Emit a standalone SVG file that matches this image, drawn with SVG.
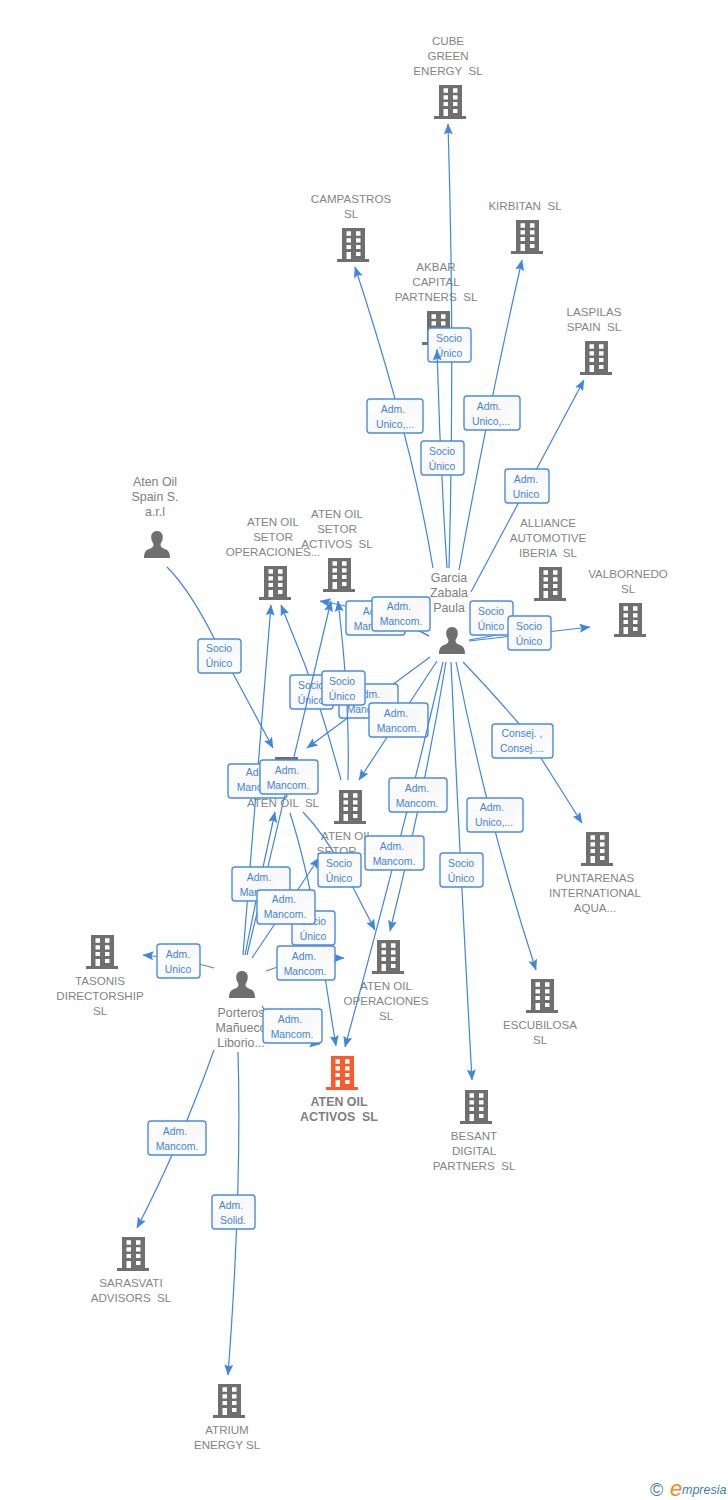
<svg xmlns="http://www.w3.org/2000/svg" width="728" height="1500" viewBox="0 0 728 1500">
<style>
text{font-family:"Liberation Sans",Arial,sans-serif;white-space:pre}
.n text{font-size:11.6px;fill:#858585;text-anchor:middle}
.p text{font-size:12.4px;fill:#808080;text-anchor:middle}
.m text{font-size:12.4px;font-weight:bold;fill:#7f7f7f;text-anchor:middle}
.e{fill:none;stroke:#3f86e0;stroke-width:1.2;marker-end:url(#a)}
.o{fill:none;stroke:#3f86e0;stroke-width:1.2}
.l rect{fill:url(#g);stroke:#4a8ce2;stroke-width:1.4;rx:3px}
.l text{font-size:10.4px;fill:#4384dc;text-anchor:middle}
</style>
<defs>
<linearGradient id="g" x1="0" y1="0" x2="1" y2="1"><stop offset="0" stop-color="#fff"/><stop offset=".5" stop-color="#f8f8f8"/><stop offset="1" stop-color="#fff"/></linearGradient>
<marker id="a" viewBox="0 0 11 9" refX="10.5" refY="4.5" markerWidth="11" markerHeight="9" markerUnits="userSpaceOnUse" orient="auto"><path d="M0,0 L11,4.5 L0,9 L2,4.5 z" fill="#3f86e0"/></marker>
<g id="b"><path fill-rule="evenodd" d="M-11,-17H12V14H-11ZM-6.5,-13.7V-9.3H-2V-13.7ZM3,-13.7V-9.3H7.5V-13.7ZM-6.5,-6.7V-2.5H-2V-6.7ZM3,-6.7V-2.5H7.5V-6.7ZM-6.5,0V4H-2V0ZM3,0V4H7.5V0ZM-6.5,7V14H-2V7ZM3,7V11H7.5V7Z"/><rect x="-16" y="14" width="32" height="3"/></g>
<path id="h" d="M0,-14C-5,-14 -6.5,-9.5 -5.5,-5.5C-5,-3.5 -4,-2 -3.5,-1C-3.5,2 -5,3 -8,4C-11,5 -13,7 -13,13H13C13,7 11,5 8,4C5,3 3.5,2 3.5,-1C4,-2 5,-3.5 5.5,-5.5C6.500,-9.500 5,-14 0,-14Z" fill="#6f6f6f"/>
</defs>
<rect width="728" height="1500" fill="#fff"/>
<g id="nodes" fill="#6f6f6f">
<g id="n-cube" class="n"><use href="#b" x="450" y="102"/><text x="448" y="45">CUBE</text><text x="448" y="60">GREEN</text><text x="448" y="75">ENERGY  SL</text></g>
<g id="n-campastros" class="n"><use href="#b" x="353" y="245"/><text x="351" y="203">CAMPASTROS</text><text x="351" y="218">SL</text></g>
<g id="n-kirbitan" class="n"><use href="#b" x="527" y="237"/><text x="525" y="210">KIRBITAN  SL</text></g>
<g id="n-akbar" class="n"><use href="#b" x="438" y="328"/><text x="436" y="271">AKBAR</text><text x="436" y="286">CAPITAL</text><text x="436" y="301">PARTNERS  SL</text></g>
<g id="n-laspilas" class="n"><use href="#b" x="596" y="358"/><text x="594" y="316">LASPILAS</text><text x="594" y="331">SPAIN  SL</text></g>
<g id="n-alliance" class="n"><use href="#b" x="550" y="584"/><text x="548" y="527">ALLIANCE</text><text x="548" y="542">AUTOMOTIVE</text><text x="548" y="557">IBERIA  SL</text></g>
<g id="n-valbornedo" class="n"><use href="#b" x="630" y="620"/><text x="628" y="578">VALBORNEDO</text><text x="628" y="593">SL</text></g>
<g id="n-setor-op" class="n"><use href="#b" x="275" y="583"/><text x="273" y="526">ATEN OIL</text><text x="273" y="541">SETOR</text><text x="273" y="556">OPERACIONES...</text></g>
<g id="n-setor-act" class="n"><use href="#b" x="339" y="575"/><text x="337" y="518">ATEN OIL</text><text x="337" y="533">SETOR</text><text x="337" y="548">ACTIVOS  SL</text></g>
<g id="n-aten-sl" class="n"><use href="#b" x="286" y="774"/><text x="283" y="807">ATEN OIL  SL</text></g>
<g id="n-setor" class="n"><use href="#b" x="350" y="807"/><text x="347" y="840">ATEN OIL</text><text x="347" y="855">SETOR  SL</text></g>
<g id="n-puntarenas" class="n"><use href="#b" x="597" y="849"/><text x="595" y="882">PUNTARENAS</text><text x="595" y="897">INTERNATIONAL</text><text x="595" y="912">AQUA...</text></g>
<g id="n-aten-op" class="n"><use href="#b" x="388" y="957"/><text x="386" y="990">ATEN OIL</text><text x="386" y="1005">OPERACIONES</text><text x="386" y="1020">SL</text></g>
<g id="n-tasonis" class="n"><use href="#b" x="102" y="952"/><text x="100" y="985">TASONIS</text><text x="100" y="1000">DIRECTORSHIP</text><text x="100" y="1015">SL</text></g>
<g id="n-escubilosa" class="n"><use href="#b" x="542" y="996"/><text x="540" y="1029">ESCUBILOSA</text><text x="540" y="1044">SL</text></g>
<g id="n-activos" class="m"><use href="#b" x="342" y="1073" fill="#fb5b2c"/><text x="339" y="1106">ATEN OIL</text><text x="339" y="1121">ACTIVOS  SL</text></g>
<g id="n-besant" class="n"><use href="#b" x="476" y="1107"/><text x="474" y="1140">BESANT</text><text x="474" y="1155">DIGITAL</text><text x="474" y="1170">PARTNERS  SL</text></g>
<g id="n-sarasvati" class="n"><use href="#b" x="133" y="1254"/><text x="131" y="1287">SARASVATI</text><text x="131" y="1302">ADVISORS  SL</text></g>
<g id="n-atrium" class="n"><use href="#b" x="229" y="1401"/><text x="227" y="1434">ATRIUM</text><text x="227" y="1449">ENERGY SL</text></g>
<g id="p-spain" class="p"><use href="#h" x="157" y="545"/><text x="155" y="486">Aten Oil</text><text x="155" y="501">Spain S.</text><text x="155" y="516">a.r.l</text></g>
<g id="p-garcia" class="p"><use href="#h" x="452" y="641"/><text x="449" y="582">Garcia</text><text x="449" y="597">Zabala</text><text x="449" y="612">Paula</text></g>
<g id="p-porteros" class="p"><use href="#h" x="242" y="985"/><text x="241" y="1017">Porteros</text><text x="241" y="1032">Mañueco</text><text x="241" y="1047">Liborio...</text></g>
</g>
<g id="connectors">
<g><path class="e" d="M449,568Q455,350 448,124"/><g class="l"><rect x="428" y="328" width="43" height="34"/><text x="449" y="342">Socio</text><text x="449" y="357">Único</text></g></g>
<g><path class="e" d="M433,568Q412,440 355,267"/><g class="l"><rect x="367" y="399" width="56" height="34"/><text x="393" y="413">Adm.</text><text x="395" y="428">Unico,...</text></g></g>
<g><path class="e" d="M459,570Q490,400 522,260"/><g class="l"><rect x="464" y="396" width="56" height="34"/><text x="489" y="410">Adm.</text><text x="491" y="425">Unico,...</text></g></g>
<g><path class="e" d="M447,568Q440,460 437,350"/><g class="l"><rect x="421" y="441" width="43" height="34"/><text x="442" y="455">Socio</text><text x="442" y="470">Único</text></g></g>
<g><path class="e" d="M471,592L584,380"/><g class="l"><rect x="505" y="469" width="44" height="34"/><text x="526" y="483">Adm.</text><text x="526" y="498">Unico</text></g></g>
<g><path class="e" d="M167,567Q190,590 215,640L273,748"/><g class="l"><rect x="198" y="639" width="43" height="34"/><text x="219" y="652">Socio</text><text x="219" y="667">Único</text></g></g>
<g><path class="e" d="M429,636Q385,612 320,601"/><g class="l"><rect x="346" y="601" width="59" height="34"/><text x="375" y="615">Adm.</text><text x="375" y="630">Mancom.</text></g></g>
<g><path class="o" d="M429,636L400,620"/><g class="l"><rect x="372" y="597" width="58" height="34"/><text x="399" y="610">Adm.</text><text x="401" y="625">Mancom.</text></g></g>
<g><path class="e" d="M341,780Q325,720 305,665L281,605"/><g class="l"><rect x="290" y="675" width="43" height="34"/><text x="311" y="689">Socio</text><text x="311" y="704">Único</text></g></g>
<g><path class="e" d="M430,657L307,748"/><g class="l"><rect x="339" y="684" width="59" height="34"/><text x="368" y="698">Adm.</text><text x="368" y="713">Mancom.</text></g></g>
<g><path class="e" d="M348,780Q350,700 338,601"/><g class="l"><rect x="322" y="671" width="43" height="34"/><text x="342" y="685">Socio</text><text x="342" y="700">Único</text></g></g>
<g><path class="e" d="M437,661L359,780"/><g class="l"><rect x="369" y="703" width="59" height="34"/><text x="396" y="717">Adm.</text><text x="398" y="732">Mancom.</text></g></g>
<g><path class="e" d="M243,955Q255,800 271,605"/><g class="l"><rect x="228" y="764" width="59" height="34"/><text x="258" y="776">Adm.</text><text x="258" y="791">Mancom.</text></g></g>
<g><path class="e" d="M247,955L331,601"/><g class="l"><rect x="260" y="760" width="58" height="34"/><text x="287" y="774">Adm.</text><text x="288" y="789">Mancom.</text></g></g>
<g><path class="e" d="M463,662Q490,690 520,725L582,823"/><g class="l"><rect x="492" y="724" width="61" height="34"/><text x="522" y="737">Consej. ,</text><text x="522" y="752">Consej....</text></g></g>
<g><path class="e" d="M443,662Q408,815 345,1047"/><path class="e" d="M446,662Q425,790 390,931"/><g class="l"><rect x="389" y="778" width="58" height="34"/><text x="417" y="792">Adm.</text><text x="417" y="807">Mancom.</text></g></g>
<g><path class="e" d="M456,662Q490,830 536,970"/><g class="l"><rect x="467" y="798" width="56" height="34"/><text x="492" y="811">Adm.</text><text x="494" y="826">Unico,...</text></g></g>
<g class="l"><rect x="365" y="836" width="59" height="34"/><text x="392" y="850">Adm.</text><text x="394" y="865">Mancom.</text></g>
<g><path class="e" d="M451,662Q460,860 472,1080"/><g class="l"><rect x="440" y="853" width="43" height="34"/><text x="461" y="867">Socio</text><text x="461" y="882">Único</text></g></g>
<g><path class="e" d="M245,955Q260,880 275,812"/><g class="l"><rect x="232" y="867" width="58" height="34"/><text x="259" y="881">Adm.</text><text x="261" y="896">Mancom.</text></g></g>
<g><path class="e" d="M290,813Q305,860 318,930Q326,985 336,1046"/><g class="l"><rect x="292" y="911" width="43" height="34"/><text x="313" y="925">Socio</text><text x="313" y="940">Único</text></g></g>
<g><path class="e" d="M252,958L319,858"/><g class="l"><rect x="257" y="890" width="58" height="34"/><text x="284" y="903">Adm.</text><text x="285" y="918">Mancom.</text></g></g>
<g><path class="e" d="M303,812Q325,835 345,872L375,930"/><g class="l"><rect x="318" y="853" width="43" height="34"/><text x="339" y="867">Socio</text><text x="339" y="882">Único</text></g></g>
<g><path class="e" d="M266,971Q300,958 344,958"/><g class="l"><rect x="277" y="946" width="58" height="34"/><text x="304" y="960">Adm.</text><text x="305" y="975">Mancom.</text></g></g>
<g><path class="e" d="M262,1006Q280,1040 320,1044"/><g class="l"><rect x="263" y="1009" width="59" height="34"/><text x="290" y="1023">Adm.</text><text x="292" y="1038">Mancom.</text></g></g>
<g><path class="e" d="M214,968Q180,958 143,955"/><g class="l"><rect x="157" y="944" width="43" height="34"/><text x="178" y="958">Adm.</text><text x="178" y="973">Unico</text></g></g>
<g><path class="e" d="M214,1050Q180,1145 137,1228"/><g class="l"><rect x="148" y="1121" width="58" height="34"/><text x="175" y="1135">Adm.</text><text x="177" y="1150">Mancom.</text></g></g>
<g><path class="e" d="M238,1052Q242,1190 228,1375"/><g class="l"><rect x="212" y="1195" width="43" height="34"/><text x="231" y="1209">Adm.</text><text x="233" y="1224">Solid.</text></g></g>
<g><path class="o" d="M469,640L520,631"/><g class="l"><rect x="470" y="601" width="43" height="34"/><text x="491" y="615">Socio</text><text x="491" y="630">Único</text></g></g>
<g><path class="e" d="M469,641L590,627"/><g class="l"><rect x="508" y="616" width="43" height="34"/><text x="529" y="630">Socio</text><text x="529" y="645">Único</text></g></g>
</g>
<g id="logo"><text x="650" y="1496" font-size="18" fill="#4a7f9f">©</text><text x="670" y="1496" font-size="22" font-style="italic" fill="#f28a1e">e</text><text x="682" y="1494" font-size="12.500" font-style="italic" fill="#3f7fa8">mpresia</text></g>
</svg>
